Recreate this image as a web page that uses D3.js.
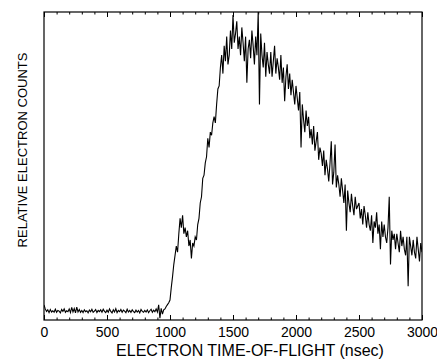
<!DOCTYPE html>
<html>
<head>
<meta charset="utf-8">
<script src="https://cdn.jsdelivr.net/npm/d3@7"></script>
<style>
  html, body { margin: 0; padding: 0; background: #fff; }
  svg { display: block; }
  text { font-family: "Liberation Sans", Arial, Helvetica, sans-serif; fill: #000; }
  .frame { fill: none; stroke: #000; stroke-width: 1.2; }
  .trace { fill: none; stroke: #000; stroke-width: 1.1; stroke-linejoin: miter; }
  .axis path { display: none; }
  .axis line { stroke: #000; stroke-width: 1; }
</style>
</head>
<body>
<div id="chart"></div>
<script>
// electron counts, one channel every 10 nsec starting at 0
const counts = [
  4.9, 3.6, 2.8, 3.3, 2.4, 3.4, 2.6, 3.0, 2.5, 3.5,
  2.5, 3.1, 2.9, 2.3, 3.4, 2.8, 3.6, 2.5, 3.0, 2.7,
  3.6, 2.4, 4.1, 2.6, 3.7, 2.3, 4.2, 2.6, 3.4, 2.5,
  3.1, 2.4, 3.3, 2.7, 3.0, 2.3, 3.2, 2.7, 3.5, 2.5,
  2.9, 3.4, 2.4, 3.1, 2.7, 3.3, 2.5, 3.5, 2.8, 2.4,
  3.2, 2.5, 3.6, 2.8, 2.3, 3.3, 2.6, 3.7, 2.4, 3.1,
  2.7, 3.4, 2.5, 3.2, 2.9, 2.4, 3.5, 2.6, 3.1, 2.5,
  3.3, 2.7, 2.4, 3.2, 2.6, 3.1, 2.3, 3.4, 2.8, 2.5,
  3.1, 2.6, 3.3, 2.4, 3.0, 3.5, 2.5, 3.2, 2.7, 3.6,
  2.6, 4.9, 0.6, 3.8, 1.9, 3.3, 3.6, 4.4, 5.0, 5.6,
  6.5, 10.5, 14, 18, 21, 24, 22, 28, 33, 30,
  34, 28, 30, 27, 29, 24, 26, 20, 25, 24,
  27, 26, 31, 33, 38, 40, 46, 47, 51, 53,
  59, 56, 61, 60, 64, 66, 64, 70, 75, 76,
  82, 86, 80, 89, 84, 92, 83, 86, 94, 88,
  99, 90, 93, 97, 88, 92, 86, 95, 90, 84,
  92, 77, 88, 91, 85, 94, 89, 83, 92, 86,
  100, 70, 93, 86, 82, 90, 79, 87, 83, 80,
  87, 79, 84, 89, 80, 85, 82, 78, 86, 77,
  82, 71, 79, 83, 75, 80, 73, 78, 74, 70,
  76, 72, 68, 74, 56, 70, 65, 61, 68, 63,
  66, 59, 62, 57, 63, 55, 58, 61, 52, 56,
  54, 50, 55, 47, 52, 49, 45, 51, 58, 44,
  48, 57, 43, 47, 44, 40, 46, 42, 38, 44,
  29, 42, 38, 35, 41, 37, 34, 40, 36, 37,
  38, 33, 36, 31, 37, 34, 30, 35, 31, 29,
  34, 25, 32, 30, 35, 28, 31, 23, 32, 27,
  31, 27, 25, 30, 40, 18, 29, 26, 28, 23,
  28, 25, 22, 29, 24, 27, 23, 21, 27, 11,
  27, 24, 21, 26, 22, 20, 27, 23, 19, 25,
  22
];
const channelWidth = 10; // nsec
const majorTicks = [0, 500, 1000, 1500, 2000, 2500, 3000];
const minorTicks = [100, 200, 300, 400, 600, 700, 800, 900, 1100, 1200, 1300, 1400,
  1600, 1700, 1800, 1900, 2100, 2200, 2300, 2400, 2600, 2700, 2800, 2900];
const xTitle = "ELECTRON TIME-OF-FLIGHT (nsec)";
const yTitle = "RELATIVE ELECTRON COUNTS";

const width = 437, height = 364;
const margin = { top: 12, right: 15, bottom: 44, left: 44 };
const plotW = width - margin.left - margin.right;
const plotH = height - margin.top - margin.bottom;

const x = d3.scaleLinear().domain([0, 3000]).range([0, plotW]);
const y = d3.scaleLinear().domain([0, 100]).range([plotH, 0]);

const svg = d3.select("#chart").append("svg")
  .attr("width", width)
  .attr("height", height);

svg.append("defs").append("clipPath").attr("id", "plot-clip")
  .append("rect").attr("width", plotW).attr("height", plotH);

const g = svg.append("g").attr("transform", `translate(${margin.left},${margin.top})`);

// the spectrum trace
const line = d3.line()
  .x((d, i) => x(i * channelWidth))
  .y(d => y(d));

g.append("path")
  .datum(counts)
  .attr("class", "trace")
  .attr("clip-path", "url(#plot-clip)")
  .attr("d", line);

// inward ticks, bottom and top
g.append("g").attr("class", "axis")
  .attr("transform", `translate(0,${plotH})`)
  .call(d3.axisBottom(x).tickValues(minorTicks).tickSize(-2.5).tickFormat(""));
g.append("g").attr("class", "axis")
  .call(d3.axisTop(x).tickValues(minorTicks).tickSize(-2.5).tickFormat(""));
g.append("g").attr("class", "axis")
  .call(d3.axisTop(x).tickValues(majorTicks).tickSize(-5).tickFormat(""));

const bottomAxis = g.append("g").attr("class", "axis")
  .attr("transform", `translate(0,${plotH})`)
  .call(d3.axisBottom(x).tickValues(majorTicks).tickSize(-5).tickPadding(7).tickFormat(d3.format("d")));
bottomAxis.attr("font-size", null).attr("font-family", null);
bottomAxis.selectAll("text").style("font-size", "14px");

// frame
g.append("rect")
  .attr("class", "frame")
  .attr("width", plotW)
  .attr("height", plotH);

// titles
svg.append("text")
  .attr("x", 250)
  .attr("y", 356)
  .attr("text-anchor", "middle")
  .style("font-size", "16px")
  .text(xTitle);

svg.append("text")
  .attr("transform", "translate(27,150) rotate(-90)")
  .attr("text-anchor", "middle")
  .style("font-size", "13px")
  .text(yTitle);
</script>
</body>
</html>
